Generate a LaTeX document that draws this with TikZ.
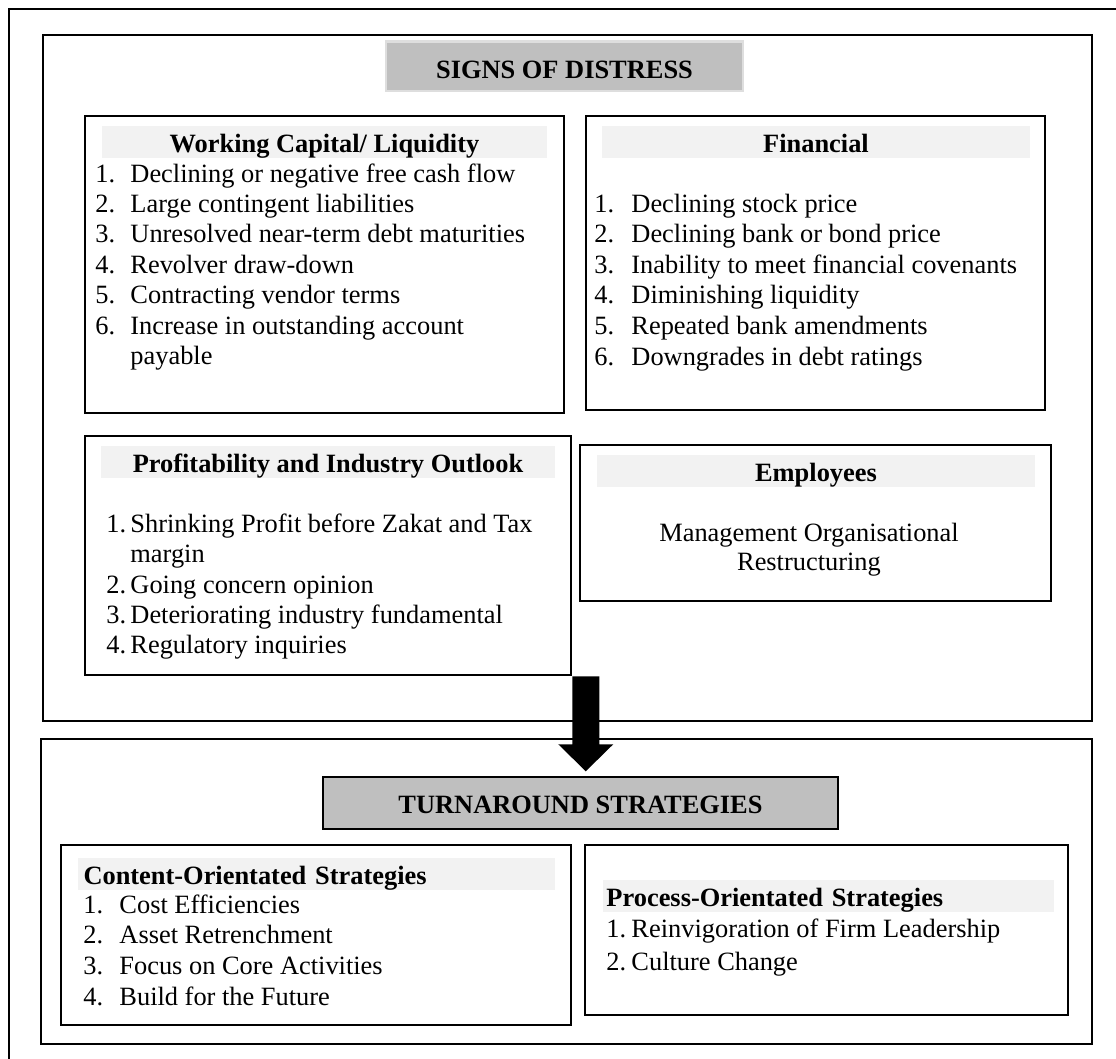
\documentclass[tikz,border=0pt]{standalone}
\usepackage{fontspec}
\setmainfont{Liberation Serif}
\usetikzlibrary{fit,calc}
\definecolor{bandgrey}{RGB}{242,242,242}
\definecolor{bannergrey}{RGB}{191,191,191}
\definecolor{banneredge}{RGB}{222,222,222}
\tikzset{
  zone/.style={draw=black,line width=1.25pt,inner sep=0pt},
  panel/.style={draw=black,line width=1.15pt,inner sep=0pt},
  banner/.style={fill=bannergrey,inner sep=0pt,anchor=base,
    font=\fontsize{12}{13.8}\selectfont\bfseries},
  heading/.style={fill=bandgrey,inner sep=0pt,text height=11.6pt,text depth=2.5pt,
    anchor=base,font=\fontsize{12}{13.8}\selectfont\bfseries},
  num/.style={anchor=base west,inner sep=0pt,font=\fontsize{12}{13.8}\selectfont},
  entry/.style={anchor=base west,inner sep=0pt,font=\fontsize{12}{13.8}\selectfont},
}
\begin{document}
\begin{tikzpicture}[x=0.4545pt,y=-0.4545pt]
  \useasboundingbox (0,0) rectangle (1116,1059);
  \begin{scope}
    \clip (0,0) rectangle (1116,1059);
    \draw[line width=0.9pt] (9,9) rectangle (1130,1075);
  \end{scope}

  % the two groups
  \node[zone,fit={(43,35) (1092,721)}] (signs) {};
  \node[zone,fit={(41,739) (1092,1044)}] (turn) {};
  \node[banner,draw=banneredge,line width=1.3pt,minimum width=162.3pt,
    text height=16.4pt,text depth=5.9pt] (sgt) at (564.5,78) {SIGNS OF DISTRESS};
  \node[banner,draw=black,line width=1.1pt,minimum width=234pt,
    text height=16.3pt,text depth=7.3pt] (tst) at (580.5,813) {TURNAROUND STRATEGIES};

  % panels
  \node[panel,fit={(85,116) (564,413)}] (wc) {};
  \node[panel,fit={(586,116) (1045,410)}] (fin) {};
  \node[panel,fit={(85,436) (571,675)}] (prof) {};
  \node[panel,fit={(580,445) (1051,601)}] (emp) {};
  \node[panel,fit={(61,845) (571,1025)}] (cont) {};
  \node[panel,fit={(585,845) (1068,1015)}] (proc) {};

  % headings
  \node[heading,minimum width=202.3pt] (wch) at (324.5,152) {Working Capital/ Liquidity};
  \node[heading,minimum width=194.5pt] (finh) at (816,152) {Financial};
  \node[heading,minimum width=206.3pt] (profh) at (328,472) {Profitability and Industry Outlook};
  \node[heading,minimum width=199.3pt] (emph) at (816,481) {Employees};
  \node[heading,anchor=base west,inner xsep=2.3pt,text width=212.2pt,align=left]
    (conth) at (78,884) {Content-Orientated Strategies};
  \node[heading,anchor=base west,inner xsep=1.6pt,text width=201.6pt,align=left]
    (proch) at (602.5,906) {Process-Orientated Strategies};

  % working capital
  \foreach \t [count=\i] in {Declining or negative free cash flow,Large contingent liabilities,
    Unresolved near-term debt maturities,Revolver draw-down,Contracting vendor terms,
    Increase in outstanding account}{
    \node[num] (wcn\i) at (95,{182+30.4*(\i-1)}) {\i.};
    \node[entry] (wce\i) at (130,{182+30.4*(\i-1)}) {\t};
  }
  \node[entry] (wce7) at (130,364) {payable};

  % financial
  \foreach \t [count=\i] in {Declining stock price,Declining bank or bond price,
    Inability to meet financial covenants,Diminishing liquidity,Repeated bank amendments,
    Downgrades in debt ratings}{
    \node[num] (finn\i) at (594,{212+30.6*(\i-1)}) {\i.};
    \node[entry] (fine\i) at (631,{212+30.6*(\i-1)}) {\t};
  }

  % profitability
  \foreach \t/\y [count=\i] in {Shrinking Profit before Zakat and Tax/532,Going concern opinion/593,
    Deteriorating industry fundamental/623,Regulatory inquiries/653}{
    \node[num] (profn\i) at (106,\y) {\i.};
    \node[entry] (profe\i) at (130,\y) {\t};
  }
  \node[entry] (profe5) at (130,562) {margin};

  % employees
  \node[entry,anchor=base] (empl1) at (809,541) {Management Organisational};
  \node[entry,anchor=base] (empl2) at (809,570) {Restructuring};

  % content / process
  \foreach \t [count=\i] in {Cost Efficiencies,Asset Retrenchment,Focus on Core Activities,
    Build for the Future}{
    \node[num] (contn\i) at (83,{913+30.7*(\i-1)}) {\i.};
    \node[entry] (conte\i) at (119,{913+30.7*(\i-1)}) {\t};
  }
  \foreach \t [count=\i] in {Reinvigoration of Firm Leadership,Culture Change}{
    \node[num] (procn\i) at (606,{937+33*(\i-1)}) {\i.};
    \node[entry] (proce\i) at (631,{937+33*(\i-1)}) {\t};
  }

  % block arrow from distress to strategies
  \fill[black] (prof.south east) -- ++(27,0) -- ++(0,68) -- ++(14,0) -- ++(-27.5,27)
    -- ++(-27.5,-27) -- ++(14,0) -- cycle;
\end{tikzpicture}
\end{document}
